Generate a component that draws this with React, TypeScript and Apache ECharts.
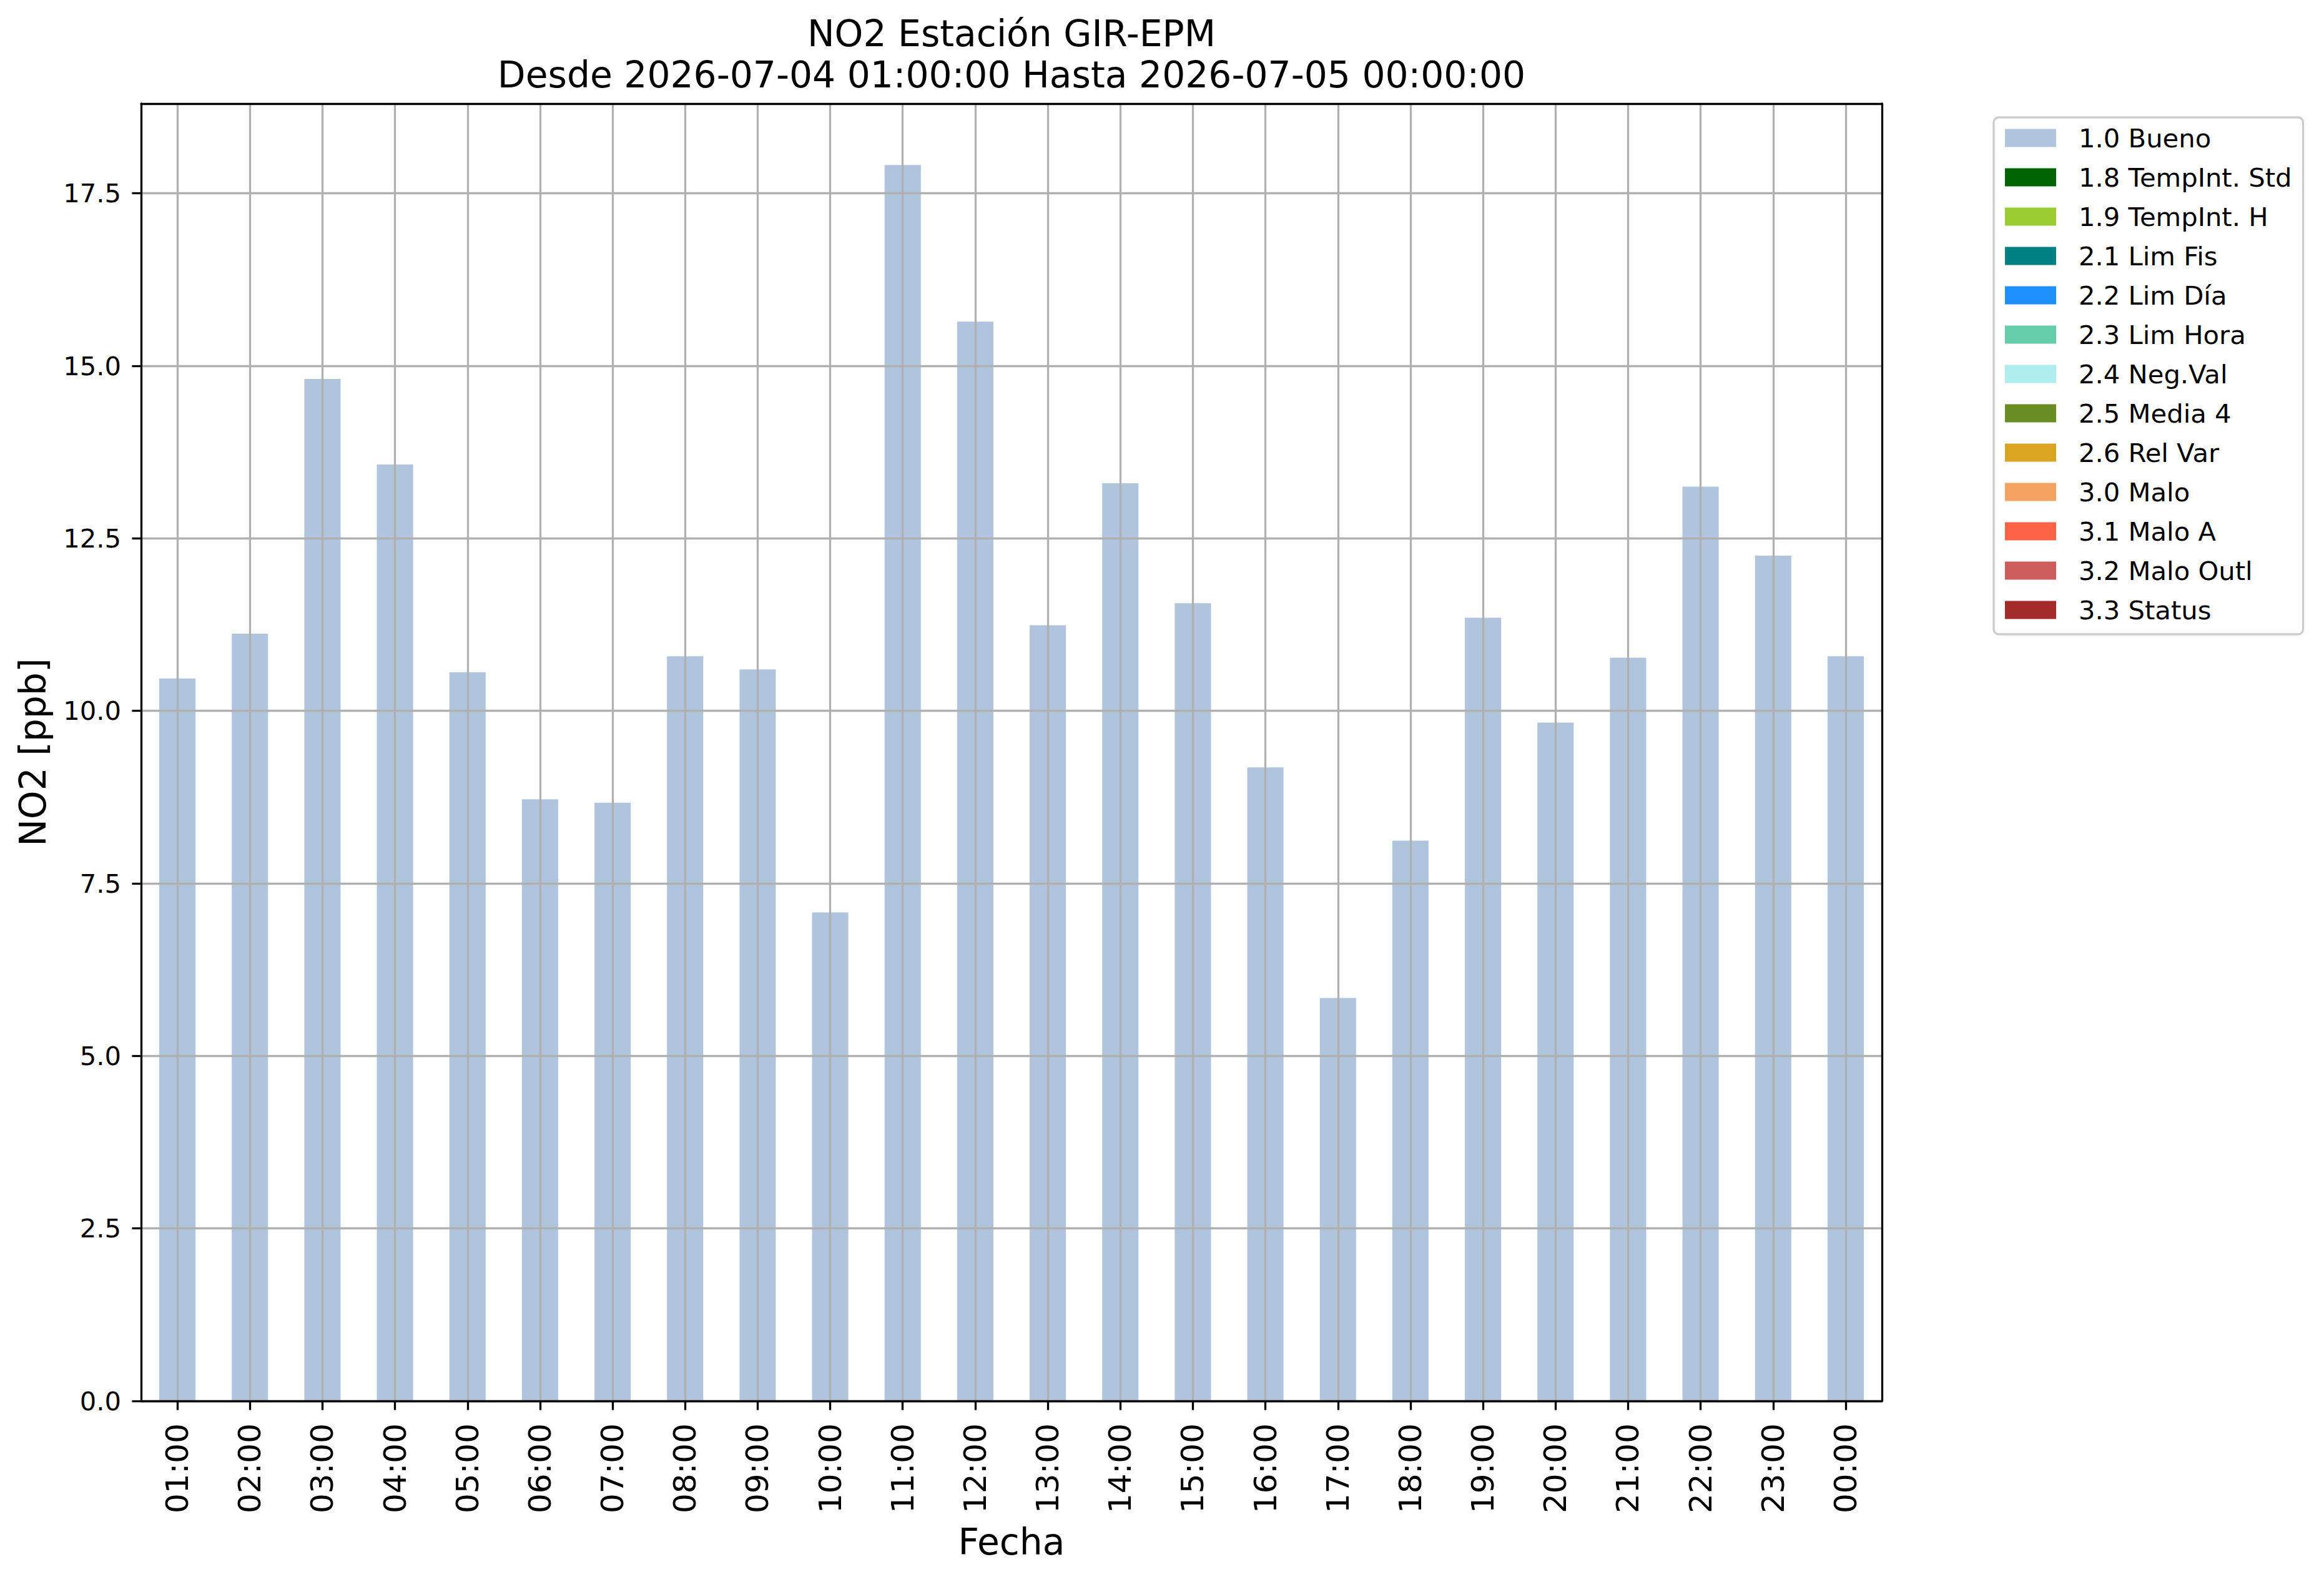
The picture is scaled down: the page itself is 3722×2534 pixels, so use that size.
import React, { useEffect, useRef } from "react";
import * as echarts from "echarts";

const hours = [
  "01:00", "02:00", "03:00", "04:00", "05:00", "06:00", "07:00", "08:00",
  "09:00", "10:00", "11:00", "12:00", "13:00", "14:00", "15:00", "16:00",
  "17:00", "18:00", "19:00", "20:00", "21:00", "22:00", "23:00", "00:00",
];

const no2Values = [
  10.47, 11.12, 14.81, 13.57, 10.56, 8.72, 8.67, 10.79,
  10.6, 7.08, 17.91, 15.64, 11.24, 13.3, 11.56, 9.18,
  5.84, 8.12, 11.35, 9.83, 10.77, 13.25, 12.25, 10.79,
];

const qualityLabels = [
  "1.0 Bueno", "1.8 TempInt. Std", "1.9 TempInt. H", "2.1 Lim Fis",
  "2.2 Lim Día", "2.3 Lim Hora", "2.4 Neg.Val", "2.5 Media 4",
  "2.6 Rel Var", "3.0 Malo", "3.1 Malo A", "3.2 Malo Outl", "3.3 Status",
];

const qualityColors = [
  "#b0c4de", "#006400", "#9acd32", "#008080",
  "#1e90ff", "#66cdaa", "#afeeee", "#6b8e23",
  "#daa520", "#f4a460", "#ff6347", "#cd5c5c", "#a52a2a",
];

const yTicks = [0, 2.5, 5, 7.5, 10, 12.5, 15, 17.5];
const yMax = 18.8;

const titleLines = [
  "NO2 Estación GIR-EPM",
  "Desde 2026-07-04 01:00:00 Hasta 2026-07-05 00:00:00",
];
const xName = "Fecha";
const yName = "NO2 [ppb]";

const FONT = "DejaVu Sans";
const LW = 3.3;

export default function App() {
  const ref = useRef<HTMLDivElement>(null);

  useEffect(() => {
    if (!ref.current) return;
    const chart = echarts.init(ref.current, undefined, { renderer: "svg" });
    const spine = { color: "#000", width: LW };
    const gridLine = { color: "#b0b0b0", width: LW };

    const series = qualityLabels.map((name, i) => ({
      type: "bar",
      name,
      stack: "q",
      barWidth: "50%",
      xAxisIndex: 0,
      yAxisIndex: 0,
      z: 2,
      itemStyle: { color: qualityColors[i] },
      data: i === 0 ? no2Values : [],
    }));

    chart.setOption({
      animation: false,
      backgroundColor: "#ffffff",
      textStyle: { fontFamily: FONT },
      grid: {
        left: 226,
        top: 166,
        width: 2788,
        height: 2078,
        containLabel: false,
        outerBoundsMode: "none",
      },
      xAxis: [
        {
          type: "category",
          data: hours,
          position: "bottom",
          z: 5,
          axisLine: { show: true, onZero: false, lineStyle: spine },
          axisTick: { show: true, alignWithLabel: true, length: 14.6, lineStyle: spine },
          axisLabel: {
            rotate: 90,
            interval: 0,
            fontSize: 50,
            fontFamily: FONT,
            color: "#000",
            margin: 36,
          },
          splitLine: { show: true, alignWithLabel: true, lineStyle: gridLine },
        },
        {
          type: "category",
          data: hours,
          position: "top",
          z: 5,
          axisLine: { show: true, onZero: false, lineStyle: spine },
          axisTick: { show: false },
          axisLabel: { show: false },
          splitLine: { show: false },
        },
      ],
      yAxis: [
        {
          type: "value",
          min: 0,
          max: yMax,
          interval: 2.5,
          z: 5,
          axisLine: { show: true, lineStyle: spine },
          axisTick: { show: true, length: 14.6, customValues: yTicks, lineStyle: spine },
          axisLabel: {
            customValues: yTicks,
            formatter: (v: number) => v.toFixed(1),
            fontSize: 41.7,
            fontFamily: FONT,
            color: "#000",
            margin: 32,
          },
          splitLine: { show: true, lineStyle: gridLine },
        },
        {
          type: "value",
          position: "right",
          min: 0,
          max: yMax,
          z: 5,
          axisLine: { show: true, onZero: false, lineStyle: spine },
          axisTick: { show: false },
          axisLabel: { show: false },
          splitLine: { show: false },
        },
      ],
      legend: {
        orient: "vertical",
        left: 3193,
        top: 188,
        itemWidth: 82,
        itemHeight: 29,
        itemGap: 21,
        padding: [12, 18, 18, 18],
        backgroundColor: "rgba(255,255,255,0.8)",
        borderColor: "#cccccc",
        borderWidth: LW,
        borderRadius: 8,
        selectedMode: false,
        data: qualityLabels.map((name) => ({ name, icon: "rect" })),
        textStyle: {
          fontFamily: FONT,
          fontSize: 41.7,
          color: "#000",
          padding: [0, 0, 0, 31],
        },
      },
      graphic: [
        {
          type: "text",
          x: 1620,
          y: 54,
          style: {
            text: titleLines[0],
            fontFamily: FONT,
            fontSize: 58.3,
            fill: "#000",
            align: "center",
            verticalAlign: "middle",
          },
        },
        {
          type: "text",
          x: 1620,
          y: 120,
          style: {
            text: titleLines[1],
            fontFamily: FONT,
            fontSize: 58.3,
            fill: "#000",
            align: "center",
            verticalAlign: "middle",
          },
        },
        {
          type: "text",
          x: 1620,
          y: 2470,
          style: {
            text: xName,
            fontFamily: FONT,
            fontSize: 58.3,
            fill: "#000",
            align: "center",
            verticalAlign: "middle",
          },
        },
        {
          type: "text",
          x: 52.5,
          y: 1205,
          rotation: Math.PI / 2,
          style: {
            text: yName,
            fontFamily: FONT,
            fontSize: 58.3,
            fill: "#000",
            align: "center",
            verticalAlign: "middle",
          },
        },
      ],
      series,
    });

    return () => {
      chart.dispose();
    };
  }, []);

  return (
    <div
      ref={ref}
      style={{ position: "absolute", left: 0, top: 0, width: 3722, height: 2534, background: "#fff" }}
    />
  );
}
